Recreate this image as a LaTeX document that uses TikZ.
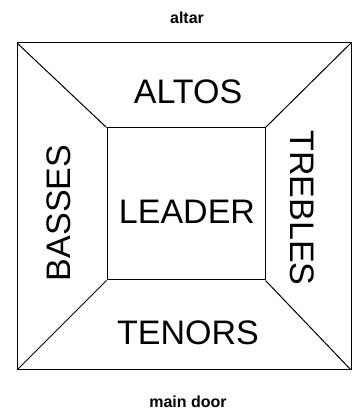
\documentclass[tikz,border=0pt]{standalone}
\usepackage{fontspec}
\setmainfont{Liberation Sans}
\begin{document}
\begin{tikzpicture}[
    x=1pt, y=1pt,
    every node/.style={inner sep=0pt},
    big/.style={font=\fontsize{34}{40}\selectfont},
    small/.style={font=\fontsize{16}{19}\selectfont\bfseries},
    wall/.style={line width=1pt},
    box/.style={wall, draw, minimum width=158pt, minimum height=152pt}
]
\useasboundingbox (0,0) rectangle (353,419);

\coordinate (nw) at (17,376); \coordinate (ne) at (351,376);
\coordinate (sw) at (17,49);  \coordinate (se) at (351,49);

\node[box] (leader) at (186,215) {};
\node[big] (ldr) at (187,207) {LEADER};

\node[small] (altar) at (187,401) {altar};
\node[small] (door) at (188,17) {main door};

\node[big] (altos) at (188,327) {ALTOS};
\node[big] (tenors) at (188,86) {TENORS};
\node[big, rotate=90] (basses) at (59,206) {BASSES};
\node[big, rotate=-90] (trebles) at (302,211) {TREBLES};

\draw[wall] (nw) -- (ne) -- (se) -- (sw) -- cycle;
\draw[wall] (nw) -- (leader.north west);
\draw[wall] (ne) -- (leader.north east);
\draw[wall] (sw) -- (leader.south west);
\draw[wall] (se) -- (leader.south east);
\end{tikzpicture}
\end{document}
